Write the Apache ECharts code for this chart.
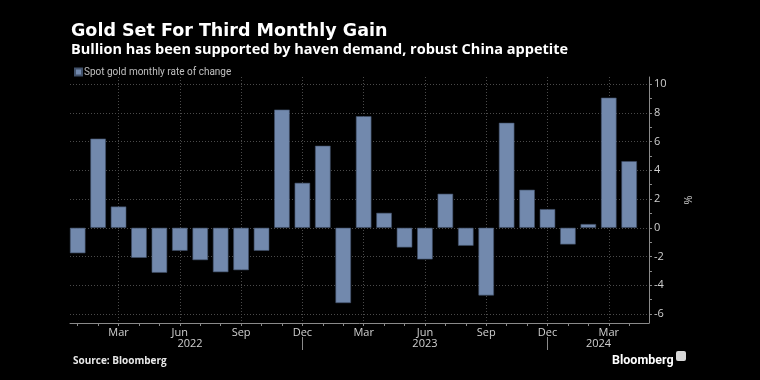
<!DOCTYPE html>
<html><head><meta charset="utf-8">
<script src="https://cdn.jsdelivr.net/npm/echarts@6/dist/echarts.min.js"></script>
<style>html,body{margin:0;padding:0;background:#000}#c{width:760px;height:380px}</style>
</head><body><div id="c"></div>
<script>
// ---- data ----
const categories = [
  '2022-01','2022-02','2022-03','2022-04','2022-05','2022-06','2022-07','2022-08','2022-09','2022-10','2022-11','2022-12',
  '2023-01','2023-02','2023-03','2023-04','2023-05','2023-06','2023-07','2023-08','2023-09','2023-10','2023-11','2023-12',
  '2024-01','2024-02','2024-03','2024-04'
];
const values = [
  -1.77, 6.21, 1.48, -2.09, -3.13, -1.60, -2.25, -3.09, -2.95, -1.60, 8.23, 3.13,
  5.71, -5.24, 7.77, 1.04, -1.37, -2.20, 2.37, -1.25, -4.71, 7.31, 2.65, 1.30,
  -1.16, 0.26, 9.06, 4.64
];
const seriesName = 'Spot gold monthly rate of change';
const monthNames = ['Jan','Feb','Mar','Apr','May','Jun','Jul','Aug','Sep','Oct','Nov','Dec'];
const quarterMonths = ['Mar','Jun','Sep','Dec'];
const yTickLabels = [-6, -4, -2, 0, 2, 4, 6, 8, 10];
const yMinorTicks = [-6,-5,-4,-3,-2,-1,0,1,2,3,4,5,6,7,8,9,10];
const years = ['2022', '2023', '2024'];

// ---- derived ----
const monthOf = c => monthNames[parseInt(c.slice(5), 10) - 1];
const idx = categories.map((c, i) => i);
const quarterIdx = idx.filter(i => quarterMonths.includes(monthOf(categories[i])));
const decIdx = idx.filter(i => monthOf(categories[i]) === 'Dec');
const bounds = [0].concat(decIdx, [categories.length]);
const yearPos = years.map((y, k) => (bounds[k] + bounds[k + 1]) / 2);

const X_MIN = -0.377, X_MAX = 27.97;
const Y_MIN = -6.63, Y_MAX = 10.5;
const gridCol = '#4a4a4a';
const axisCol = '#8a8a8a';
const txtCol = '#d0d0d0';

const chart = echarts.init(document.getElementById('c'), null, {renderer: 'canvas'});
chart.setOption({
  backgroundColor: '#000',
  animation: false,
  title: [
    {text: 'Gold Set For Third Monthly Gain', left: 66, top: 17,
     textStyle: {color: '#fff', fontSize: 17.5, fontWeight: 'bold', fontFamily: 'DejaVu Sans'}},
    {text: 'Bullion has been supported by haven demand, robust China appetite', left: 66, top: 37,
     textStyle: {color: '#fff', fontSize: 14.5, fontWeight: 'bold', fontFamily: 'Open Sans'}},
    {text: 'Source: Bloomberg', left: 68, top: 351,
     textStyle: {color: '#e8e8e8', fontSize: 10, fontWeight: 'bold', fontFamily: 'Open Sans'}},
    {text: 'Bloomberg', left: 607, top: 349,
     textStyle: {color: '#fff', fontSize: 12.5, fontWeight: 'bold', fontFamily: 'Roboto'}}
  ],
  legend: {
    left: 69, top: 62, icon: 'rect', itemWidth: 7, itemHeight: 7, itemGap: 5,
    textStyle: {color: '#c0c0c0', fontSize: 10, fontFamily: 'Roboto', padding: [0, 0, 0, -3]},
    data: [seriesName]
  },
  graphic: [
    {type: 'rect', left: 676, top: 351, shape: {width: 10, height: 10, r: 2}, style: {fill: '#d8d8d8'}}
  ],
  grid: {left: 70, right: 111, top: 77, bottom: 57},
  xAxis: [
    {
      type: 'value', min: X_MIN, max: X_MAX, position: 'bottom',
      axisLine: {show: true, onZero: false, lineStyle: {color: axisCol, width: 1}},
      axisTick: {show: true, length: 3, customValues: idx, lineStyle: {color: axisCol}},
      axisLabel: {show: true, customValues: quarterIdx, margin: 4, color: txtCol, fontSize: 11,
        fontFamily: 'Open Sans', formatter: v => monthOf(categories[Math.round(v)])},
      splitLine: {show: false}
    },
    {
      type: 'value', min: X_MIN, max: X_MAX, position: 'bottom',
      axisLine: {show: false, onZero: false},
      axisTick: {show: false, customValues: quarterIdx},
      axisLabel: {show: false},
      splitLine: {show: true, lineStyle: {color: gridCol, type: [1, 2], width: 1}}
    },
    {
      type: 'value', min: X_MIN, max: X_MAX, position: 'bottom', offset: 14,
      axisLine: {show: false, onZero: false},
      axisTick: {show: true, length: 13, customValues: decIdx, lineStyle: {color: axisCol}},
      axisLabel: {show: true, customValues: yearPos, margin: 1, color: txtCol, fontSize: 11,
        fontFamily: 'Open Sans', formatter: v => years[yearPos.indexOf(v)] || ''},
      splitLine: {show: false}
    }
  ],
  yAxis: [
    {
      type: 'value', min: Y_MIN, max: Y_MAX, position: 'right',
      name: '%', nameLocation: 'middle', nameRotate: -90, nameGap: 33,
      nameTextStyle: {color: txtCol, fontSize: 11, fontFamily: 'Open Sans'},
      axisLine: {show: true, onZero: false, lineStyle: {color: axisCol, width: 1}},
      axisTick: {show: true, length: 3, customValues: yMinorTicks, lineStyle: {color: axisCol}},
      axisLabel: {show: true, customValues: yTickLabels, margin: 5, color: txtCol, fontSize: 11,
        fontFamily: 'Open Sans'},
      splitLine: {show: false}
    },
    {
      type: 'value', min: Y_MIN, max: Y_MAX, position: 'right',
      axisLine: {show: false, onZero: false},
      axisTick: {show: false, customValues: yTickLabels},
      axisLabel: {show: false},
      splitLine: {show: true, lineStyle: {color: gridCol, type: [1, 2], width: 1}}
    }
  ],
  series: [{
    name: seriesName, type: 'bar', xAxisIndex: 0, yAxisIndex: 0,
    barWidth: 15.5,
    itemStyle: {color: '#7289ad', borderColor: '#41516a', borderWidth: 0.6},
    data: values.map((v, i) => [i, v]),
    z: 3
  }]
});
</script>
</body></html>
